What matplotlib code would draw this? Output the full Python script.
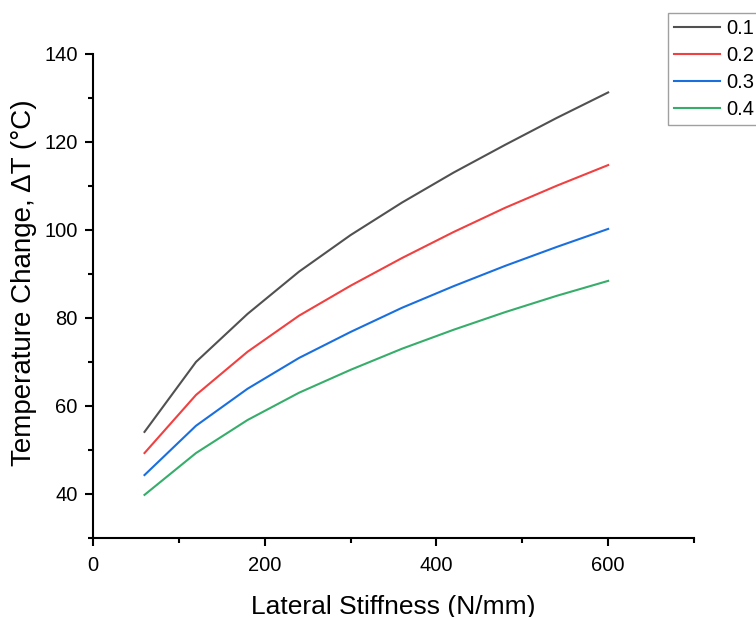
import matplotlib
matplotlib.use("Agg")
import matplotlib.pyplot as plt
from matplotlib.ticker import MultipleLocator

plt.rcParams['font.family'] = ['Liberation Sans', 'DejaVu Sans']

stiffness = [60, 120, 180, 240, 300, 360, 420, 480, 540, 600]
dt_01 = [54.1, 70.0, 80.9, 90.5, 98.8, 106.2, 113.0, 119.3, 125.4, 131.2]
dt_02 = [49.3, 62.5, 72.3, 80.5, 87.3, 93.6, 99.5, 105.0, 110.0, 114.7]
dt_03 = [44.3, 55.5, 63.9, 70.9, 76.8, 82.3, 87.2, 91.8, 96.1, 100.2]
dt_04 = [39.8, 49.3, 56.8, 63.0, 68.2, 73.0, 77.3, 81.3, 85.0, 88.4]
labels = ["0.1", "0.2", "0.3", "0.4"]
colors = ["#515151", "#F14040", "#1A6FDF", "#37AD6B"]

fig = plt.figure(figsize=(7.56, 6.17), dpi=100)
ax = fig.add_axes([0.123, 0.128, 0.795, 0.785])

for y, lab, c in zip([dt_01, dt_02, dt_03, dt_04], labels, colors):
    ax.plot(stiffness, y, color=c, lw=1.5, label=lab)

ax.set_xlim(0, 700)
ax.set_ylim(30, 140)
ax.xaxis.set_major_locator(MultipleLocator(200))
ax.xaxis.set_minor_locator(MultipleLocator(100))
ax.yaxis.set_major_locator(MultipleLocator(20))
ax.yaxis.set_minor_locator(MultipleLocator(10))
ax.spines['top'].set_visible(False)
ax.spines['right'].set_visible(False)
for s in ['left', 'bottom']:
    ax.spines[s].set_linewidth(1.5)
ax.tick_params(which='major', direction='out', length=6, width=1.5,
               labelsize=14.5, pad=5)
ax.tick_params(axis='x', which='major', pad=7)
ax.tick_params(which='minor', direction='out', length=3.5, width=1.5)

ax.set_xlabel("Lateral Stiffness (N/mm)", fontsize=19, labelpad=14)
ax.set_ylabel("Temperature Change, ΔT (°C)", fontsize=20, labelpad=5)
ax.yaxis.label.set_y(0.527)

leg = fig.legend(loc='upper left', bbox_to_anchor=(668 / 756, 1 - 13 / 617),
                 fontsize=14.5, frameon=True, fancybox=False, handlelength=2.3,
                 borderpad=0.3, labelspacing=0.4, handletextpad=0.3,
                 borderaxespad=0)
leg.get_frame().set_edgecolor('#888888')
leg.get_frame().set_linewidth(1.0)

fig.savefig("out.png", dpi=100)
